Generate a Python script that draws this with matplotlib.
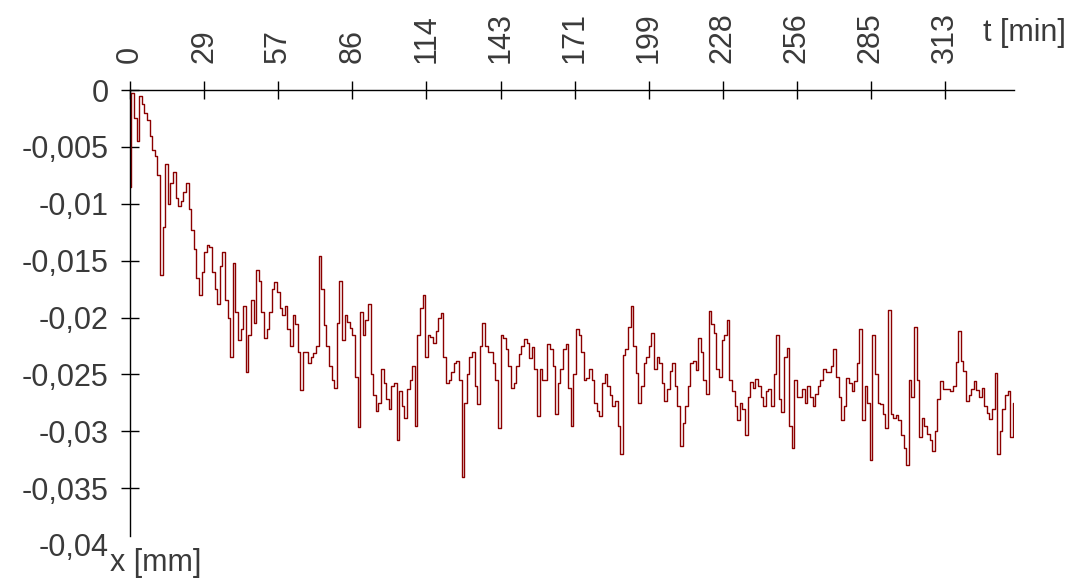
import numpy as np
import matplotlib
matplotlib.use("Agg")
import matplotlib.pyplot as plt

# measured displacement, in micrometres, one reading per minute (t = 0 .. 340 min)
x_um = [
    -8.5, -0.3, -2.5, -4.5, -0.5, -1.2, -2.0, -2.6, -4.0, -5.3,
    -5.8, -7.5, -16.3, -12.0, -6.5, -10.0, -8.2, -7.2, -9.5, -10.2,
    -9.8, -9.0, -8.2, -10.5, -12.3, -14.0, -16.5, -18.0, -16.0, -14.2,
    -13.6, -13.8, -16.0, -17.5, -18.8, -15.5, -14.2, -18.5, -20.0, -23.5,
    -15.2, -19.5, -22.0, -21.0, -19.0, -24.8, -21.5, -18.5, -20.5, -15.8,
    -16.8, -19.5, -21.8, -21.0, -19.5, -17.5, -16.9, -17.8, -19.2, -19.8,
    -19.0, -21.0, -22.5, -19.8, -20.6, -23.0, -26.4, -23.0, -23.0, -24.0,
    -23.5, -23.1, -22.5, -14.6, -17.5, -20.7, -22.5, -24.3, -25.5, -26.2,
    -20.5, -16.8, -22.0, -19.8, -20.4, -20.9, -21.5, -25.2, -29.6, -19.5,
    -21.5, -20.2, -18.8, -25.0, -26.8, -28.2, -27.5, -24.5, -25.8, -27.2,
    -28.0, -26.0, -25.8, -30.8, -26.5, -27.8, -28.8, -26.3, -25.5, -24.3,
    -29.5, -21.5, -19.2, -18.0, -23.5, -21.5, -21.7, -22.2, -21.2, -20.0,
    -19.6, -23.5, -25.8, -25.5, -24.8, -24.0, -23.8, -25.5, -34.0, -27.5,
    -25.0, -23.5, -23.0, -26.0, -27.6, -22.5, -20.5, -22.5, -23.0, -23.0,
    -24.0, -25.5, -29.7, -21.5, -21.8, -22.8, -24.3, -26.2, -25.8, -24.3,
    -23.2, -22.5, -21.9, -22.2, -23.6, -22.6, -24.5, -28.7, -24.5, -25.5,
    -25.5, -22.3, -22.8, -24.3, -28.5, -25.8, -24.5, -22.8, -22.3, -26.2,
    -29.5, -25.0, -21.0, -21.5, -23.0, -25.5, -25.3, -24.5, -25.5, -27.5,
    -28.2, -28.7, -25.8, -25.0, -26.0, -26.8, -27.8, -27.3, -29.5, -32.0,
    -23.3, -22.8, -20.8, -19.0, -22.5, -24.9, -27.5, -26.0, -24.0, -23.5,
    -22.5, -21.4, -24.5, -23.5, -24.0, -25.8, -27.3, -26.3, -24.7, -24.0,
    -26.0, -27.8, -31.3, -29.3, -27.8, -26.0, -24.0, -23.8, -24.6, -21.8,
    -23.0, -25.5, -26.7, -19.4, -20.6, -21.4, -24.5, -25.2, -22.0, -21.5,
    -20.2, -25.5, -26.5, -27.8, -29.0, -27.5, -28.0, -30.3, -27.0, -25.7,
    -26.2, -25.4, -26.0, -27.0, -27.8, -26.5, -26.3, -27.8, -25.0, -21.5,
    -27.2, -28.3, -23.5, -22.7, -29.5, -31.5, -25.5, -27.0, -27.0, -26.3,
    -27.5, -26.0, -27.0, -27.8, -26.7, -26.0, -25.5, -24.5, -24.8, -24.8,
    -24.3, -22.8, -25.2, -27.0, -29.0, -27.8, -25.3, -25.8, -26.5, -25.6,
    -24.0, -21.0, -29.0, -26.0, -27.5, -32.5, -21.5, -25.0, -27.5, -27.6,
    -28.5, -29.7, -19.3, -28.5, -28.8, -28.6, -29.0, -30.3, -31.5, -33.0,
    -25.5, -27.0, -20.8, -25.5, -30.5, -28.8, -29.5, -30.2, -30.8, -31.7,
    -30.0, -27.2, -25.6, -26.3, -26.3, -26.3, -26.5, -26.0, -23.9, -21.2,
    -23.8, -24.7, -27.3, -26.8, -26.3, -25.6, -26.4, -27.0, -26.2, -27.8,
    -28.4, -28.9, -28.0, -24.9, -32.0, -30.0, -28.0, -26.8, -26.5, -30.5,
    -27.5,
]
x_mm = np.array(x_um) / 1000.0
t_min = np.arange(len(x_mm))

xtick_pos = [0, 28.5, 57, 85.5, 114, 142.5, 171, 199.5, 228, 256.5, 285, 313.5]
xtick_labels = ["0", "29", "57", "86", "114", "143", "171", "199", "228", "256", "285", "313"]
ytick_pos = [0, -0.005, -0.01, -0.015, -0.02, -0.025, -0.03, -0.035, -0.04]
ytick_labels = ["0", "-0,005", "-0,01", "-0,015", "-0,02", "-0,025", "-0,03", "-0,035", "-0,04"]

plt.rcParams["font.family"] = ["Liberation Sans", "DejaVu Sans"]
txt_color = "#3a3a3a"
fs = 22

fig = plt.figure(figsize=(10.69, 5.82), dpi=100)
ax = fig.add_axes([130 / 1069, 1 - 545 / 582, (1014 - 130) / 1069, (545 - 90) / 582])

ax.plot(t_min, x_mm, color="#8b0000", lw=1.0, drawstyle="steps-mid")

ax.set_xlim(0, 340)
ax.set_ylim(-0.04, 0)

ax.spines["right"].set_visible(False)
ax.spines["bottom"].set_visible(False)
ax.spines["left"].set_bounds(-0.0392, 0)
for s in ("left", "top"):
    ax.spines[s].set_linewidth(1.0)
    ax.spines[s].set_color("black")

ax.xaxis.tick_top()
ax.set_xticks(xtick_pos)
ax.set_xticklabels(xtick_labels, rotation=90)
ax.set_yticks(ytick_pos)
ax.set_yticklabels(ytick_labels)
ax.tick_params(axis="both", direction="inout", length=13, width=1.0,
               labelsize=fs, labelcolor=txt_color)
ax.tick_params(axis="x", pad=13)
ax.tick_params(axis="y", pad=9)
ax.yaxis.get_major_ticks()[-1].tick1line.set_visible(False)

fig.text(983 / 1069, 1 - 33 / 582, "t [min]", fontsize=fs, color=txt_color,
         ha="left", va="center")
fig.text(110 / 1069, 1 - 563 / 582, "x [mm]", fontsize=fs, color=txt_color,
         ha="left", va="center")

fig.savefig("out.png", dpi=100)
